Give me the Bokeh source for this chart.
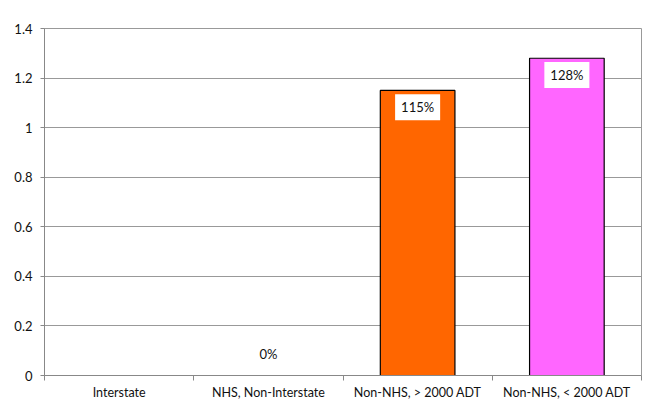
from bokeh.plotting import figure
from bokeh.models import ColumnDataSource, Range1d, FixedTicker
from bokeh.core.properties import value
from bokeh.embed import file_html
from bokeh.resources import INLINE

categories = ["Interstate", "NHS, Non-Interstate", "Non-NHS, > 2000 ADT", "Non-NHS, < 2000 ADT"]
values = [float("nan"), 0.0, 1.15, 1.28]
value_labels = ["", "0%", "115%", "128%"]
bar_colors = ["#FF6600", "#FF6600", "#FF6600", "#FF66FF"]
y_ticks = [0, 0.2, 0.4, 0.6, 0.8, 1.0, 1.2, 1.4]
y_tick_labels = ["0", "0.2", "0.4", "0.6", "0.8", "1", "1.2", "1.4"]

FONT = "Lato"
n = len(categories)
xs = [i + 0.5 for i in range(n)]

p = figure(width=653, height=402, output_backend="svg", toolbar_location=None,
           x_range=Range1d(0, n), y_range=Range1d(0, 1.4),
           min_border_left=44, min_border_right=12, min_border_top=28, min_border_bottom=25)
p.outline_line_color = "#999999"
p.background_fill_color = "white"

bars_idx = [i for i, v in enumerate(values) if v == v and v > 0]
bsrc = ColumnDataSource(dict(x=[xs[i] for i in bars_idx], top=[values[i] for i in bars_idx],
                             color=[bar_colors[i] for i in bars_idx]))
p.vbar(x="x", top="top", width=0.5, bottom=0, fill_color="color", line_color="black",
       line_width=1.2, source=bsrc)

# value labels
lx, ly, lt = [], [], []
for i, v in enumerate(values):
    if v != v:
        continue
    lx.append(xs[i])
    lt.append(value_labels[i])
    if v > 0:
        ly.append(v - 0.068)
    else:
        ly.append(v + 0.085)
lsrc = ColumnDataSource(dict(x=lx, y=ly, t=lt))
p.text(x="x", y="y", text="t", source=lsrc, text_align="center", text_baseline="middle",
       text_font=value(FONT), text_font_size="13px", text_color="#111111",
       background_fill_color="white", padding=[6, 5])

# y axis
p.yaxis.ticker = FixedTicker(ticks=y_ticks)
p.yaxis.major_label_overrides = {t: l for t, l in zip(y_ticks, y_tick_labels)}
p.yaxis.major_label_text_font = FONT
p.yaxis.major_label_text_font_size = "13px"
p.yaxis.major_label_text_color = "#111111"
p.yaxis.axis_line_color = "#888888"
p.yaxis.major_tick_line_color = "#888888"
p.yaxis.major_tick_out = 4
p.yaxis.major_tick_in = 0
p.yaxis.minor_tick_line_color = None
p.yaxis.major_label_standoff = 8

# x axis
p.xaxis.ticker = FixedTicker(ticks=xs, minor_ticks=list(range(n + 1)))
p.xaxis.major_label_overrides = {x: c for x, c in zip(xs, categories)}
p.xaxis.major_label_text_font = FONT
p.xaxis.major_label_text_font_size = "12.5px"
p.xaxis.major_label_text_color = "#111111"
p.xaxis.axis_line_color = "#888888"
p.xaxis.major_tick_line_color = None
p.xaxis.minor_tick_line_color = "#888888"
p.xaxis.minor_tick_out = 5
p.xaxis.minor_tick_in = 0
p.xaxis.major_label_standoff = 3

p.xgrid.grid_line_color = None
p.ygrid.grid_line_color = "#999999"
p.ygrid.ticker = FixedTicker(ticks=y_ticks)

open("out.html", "w").write(file_html(p, INLINE))
